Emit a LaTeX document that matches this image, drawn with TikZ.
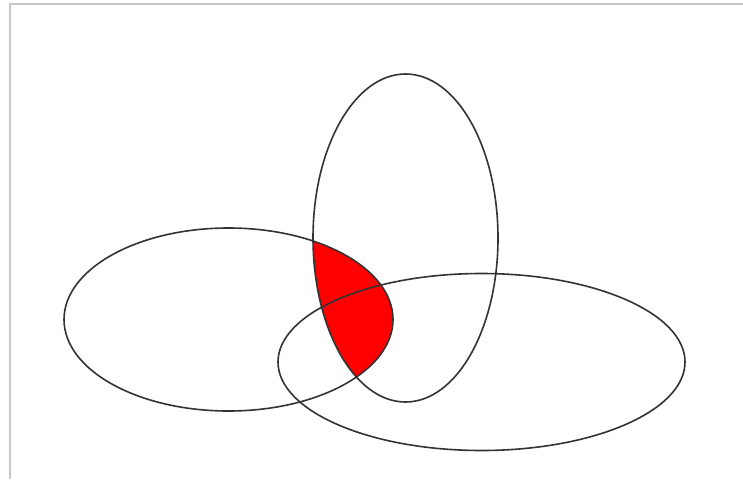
\documentclass[tikz,border=0pt]{standalone}
\begin{document}
\begin{tikzpicture}[x=1pt,y=-1pt,
  ell/.style={draw=black!80,line width=1.6pt},
  frame/.style={draw=black!22,line width=2pt}]
\useasboundingbox (0,0) rectangle (743,479);
\fill[white] (0,0) rectangle (743,479);
\draw[frame] (10,479) -- (10,4) -- (743,4);
\begin{scope}
  \clip (228.5,319.5) ellipse [x radius=164.5, y radius=91.5];
  \fill[red] (405.5,238) ellipse [x radius=92.5, y radius=164];
\end{scope}
\draw[ell] (228.5,319.5) ellipse [x radius=164.5, y radius=91.5];
\draw[ell] (405.5,238) ellipse [x radius=92.5, y radius=164];
\draw[ell] (481.5,362) ellipse [x radius=203.5, y radius=88.5];
\end{tikzpicture}
\end{document}
